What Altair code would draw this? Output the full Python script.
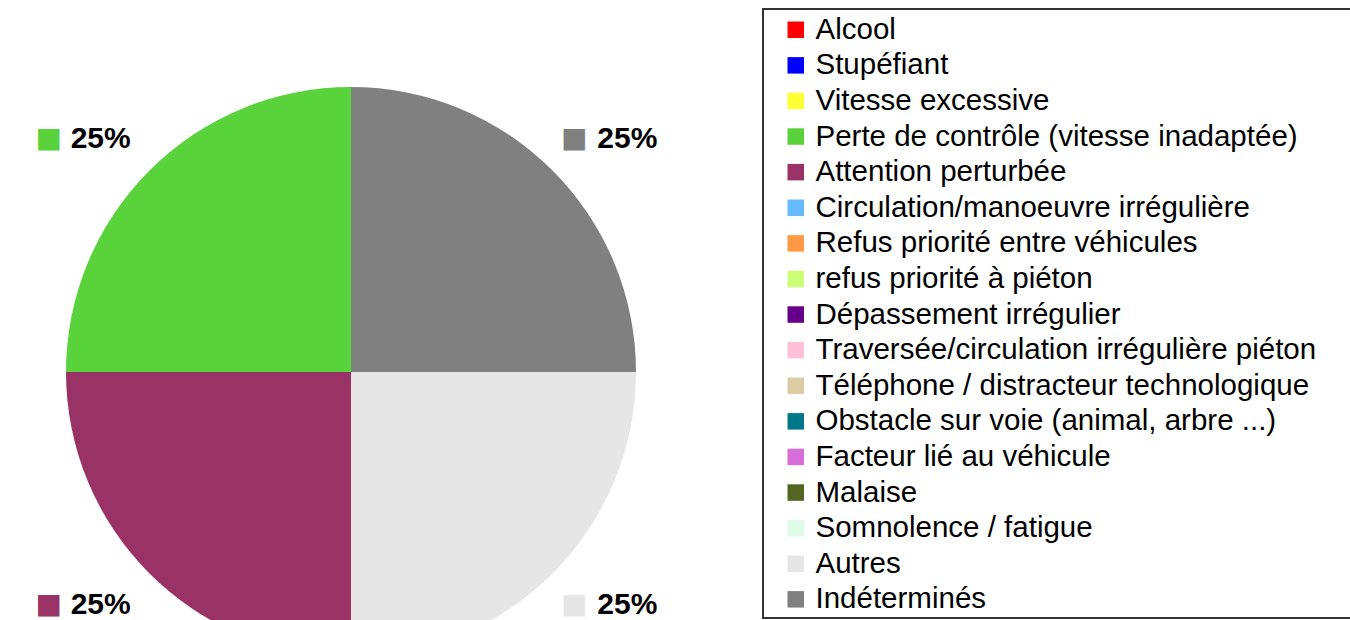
import json
import altair as alt
import pandas as pd

categories = [
    "Alcool",
    "Stupéfiant",
    "Vitesse excessive",
    "Perte de contrôle (vitesse inadaptée)",
    "Attention perturbée",
    "Circulation/manoeuvre irrégulière",
    "Refus priorité entre véhicules",
    "refus priorité à piéton",
    "Dépassement irrégulier",
    "Traversée/circulation irrégulière piéton",
    "Téléphone / distracteur technologique",
    "Obstacle sur voie (animal, arbre ...)",
    "Facteur lié au véhicule",
    "Malaise",
    "Somnolence / fatigue",
    "Autres",
    "Indéterminés",
]
values = [0, 0, 0, 25, 25, 0, 0, 0, 0, 0, 0, 0, 0, 0, 0, 25, 25]
colors = [
    "#FF0000", "#0000FF", "#FFFF33", "#5AD23C", "#993366",
    "#66BBFF", "#FF9944", "#CCFF77", "#660088", "#FFC0D8",
    "#DDCBA4", "#007788", "#D86FD8", "#556622", "#DDFBE6",
    "#E6E6E6", "#808080",
]
left_labels = ["Perte de contrôle (vitesse inadaptée)", "Attention perturbée"]
right_labels = ["Autres", "Indéterminés"]

df = pd.DataFrame({"cat": categories, "val": values, "idx": list(range(len(categories)))})

CX, CY = 351, 372
color_scale = alt.Scale(domain=categories, range=colors)

base = alt.Chart(df)

pie = base.mark_arc(outerRadius=285, strokeWidth=0).encode(
    theta=alt.Theta("val:Q", stack=True),
    order=alt.Order("idx:Q", sort="descending"),
    color=alt.Color(
        "cat:N",
        scale=color_scale,
        legend=alt.Legend(
            title=None,
            orient="none",
            legendX=763,
            legendY=9,
            direction="vertical",
            columns=1,
            symbolType="square",
            symbolSize=272,
            symbolStrokeWidth=0,
            symbolOpacity=1,
            labelFont="Liberation Sans",
            labelFontSize=29.5,
            labelColor="#000000",
            labelLimit=700,
            labelOffset=5,
            rowPadding=4.6,
            padding=6,
            symbolOffset=12,
        ),
    ),
    x=alt.value(CX),
    y=alt.value(CY),
)

layers = [pie]
R = 330
for group, sq_dx, num_dx in [(left_labels, -69, -17), (right_labels, -10, 43)]:
    test = f"indexof({json.dumps(group)}, datum.cat) >= 0 && datum.val > 0"
    sub = base.transform_joinaggregate(total="sum(val)").transform_calculate(
        pct="format(datum.val / datum.total, '.0%')"
    )
    enc_common = dict(
        theta=alt.Theta("val:Q", stack=True),
        order=alt.Order("idx:Q", sort="descending"),
        x=alt.value(CX),
        y=alt.value(CY),
        radius=alt.value(R),
    )
    sq = sub.mark_text(
        text="■", font="DejaVu Sans", fontSize=28, dx=sq_dx, baseline="middle", align="center"
    ).encode(
        color=alt.Color("cat:N", scale=color_scale, legend=None),
        opacity=alt.condition(test, alt.value(1), alt.value(0)),
        **enc_common,
    )
    num = sub.mark_text(
        font="Liberation Sans", fontSize=30, fontWeight="bold", dx=num_dx,
        baseline="middle", align="center", color="#000000",
    ).encode(
        text="pct:N",
        opacity=alt.condition(test, alt.value(1), alt.value(0)),
        **enc_common,
    )
    layers += [sq, num]

frame = alt.Chart(alt.Data(values=[{"a": 1}])).mark_rect(
    fill="transparent", stroke="#333333", strokeWidth=2
).encode(x=alt.value(763), x2=alt.value(1362), y=alt.value(9), y2=alt.value(618))

chart = alt.layer(frame, *layers).properties(
    width=1350, height=620, padding=0,
    autosize=alt.AutoSizeParams(type="none"),
    background="white",
).configure_view(stroke="transparent")

chart.save("out.html", embed_options={"renderer": "svg", "actions": False})
